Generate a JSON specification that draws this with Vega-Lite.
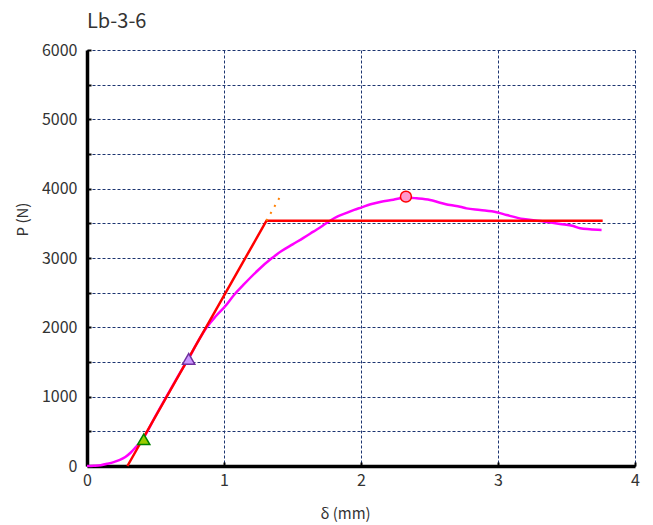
{
  "$schema": "https://vega.github.io/schema/vega-lite/v6.json",
  "width": 548,
  "height": 416,
  "autosize": {"type": "none"},
  "padding": {"left": 87, "top": 50, "right": 18, "bottom": 59},
  "title": {
    "text": "Lb-3-6",
    "anchor": "start",
    "frame": "group",
    "font": "Noto Sans CJK JP",
    "fontSize": 20,
    "fontWeight": "normal",
    "color": "#333333",
    "offset": 10
  },
  "config": {
    "view": {"stroke": null},
    "font": "Noto Sans CJK JP"
  },
  "datasets": {
    "curve": [
      {"x": 0, "y": 0}, {"x": 0.05, "y": 4}, {"x": 0.1, "y": 12}, {"x": 0.15, "y": 33},
      {"x": 0.2, "y": 60}, {"x": 0.24, "y": 88}, {"x": 0.28, "y": 130}, {"x": 0.32, "y": 195},
      {"x": 0.36, "y": 280}, {"x": 0.39, "y": 340}, {"x": 0.414, "y": 410}, {"x": 0.5, "y": 720}, {"x": 0.6, "y": 1070},
      {"x": 0.7, "y": 1415}, {"x": 0.742, "y": 1550}, {"x": 0.8, "y": 1760}, {"x": 0.874, "y": 2000},
      {"x": 0.94, "y": 2160}, {"x": 1.007, "y": 2300}, {"x": 1.07, "y": 2460}, {"x": 1.141, "y": 2611},
      {"x": 1.25, "y": 2827}, {"x": 1.348, "y": 2995}, {"x": 1.42, "y": 3100}, {"x": 1.501, "y": 3197},
      {"x": 1.58, "y": 3290}, {"x": 1.652, "y": 3380}, {"x": 1.72, "y": 3465}, {"x": 1.774, "y": 3538},
      {"x": 1.83, "y": 3600}, {"x": 1.895, "y": 3650}, {"x": 1.95, "y": 3695}, {"x": 2.005, "y": 3731},
      {"x": 2.07, "y": 3775}, {"x": 2.139, "y": 3808}, {"x": 2.236, "y": 3840}, {"x": 2.328, "y": 3872},
      {"x": 2.406, "y": 3861}, {"x": 2.504, "y": 3837}, {"x": 2.577, "y": 3798}, {"x": 2.65, "y": 3764},
      {"x": 2.723, "y": 3740}, {"x": 2.77, "y": 3716}, {"x": 2.869, "y": 3692}, {"x": 2.99, "y": 3659},
      {"x": 3.063, "y": 3620}, {"x": 3.185, "y": 3562}, {"x": 3.307, "y": 3534}, {"x": 3.453, "y": 3490},
      {"x": 3.55, "y": 3462}, {"x": 3.6, "y": 3428}, {"x": 3.67, "y": 3414}, {"x": 3.756, "y": 3404}
    ],
    "bilinear": [
      {"x": 0.295, "y": 0}, {"x": 1.31, "y": 3538}, {"x": 3.764, "y": 3538}
    ],
    "extension": [
      {"x": 1.31, "y": 3538}, {"x": 1.42, "y": 3920}
    ],
    "markers": [
      {"x": 0.414, "y": 385, "kind": "A"},
      {"x": 0.742, "y": 1545, "kind": "B"},
      {"x": 2.328, "y": 3885, "kind": "C"}
    ]
  },
  "encoding": {
    "x": {
      "field": "x", "type": "quantitative",
      "scale": {"domain": [0, 4], "nice": false},
      "axis": {
        "values": [0, 0.5, 1, 1.5, 2, 2.5, 3, 3.5, 4],
        "format": "d",
        "labelExpr": "datum.value % 1 === 0 ? datum.label : ''",
        "title": "δ (mm)",
        "titleFont": "Noto Sans CJK JP",
        "titleFontSize": 15,
        "titleFontWeight": "normal",
        "titleColor": "#333333",
        "titleX": 258,
        "titleY": 47,
        "titleBaseline": "middle",
        "titleAlign": "center",
        "labelFont": "Noto Sans CJK JP",
        "labelFontSize": 16,
        "labelColor": "#333333",
        "labelPadding": 10,
        "labelFlush": false,
        "domainColor": "#000000",
        "domainWidth": 3.5,
        "tickColor": "#000000",
        "tickWidth": 2,
        "tickSize": -4,
        "grid": true,
        "gridColor": "#1c3470",
        "gridDash": [3, 2],
        "gridWidth": 1
      }
    },
    "y": {
      "field": "y", "type": "quantitative",
      "scale": {"domain": [0, 6000], "nice": false},
      "axis": {
        "values": [0, 500, 1000, 1500, 2000, 2500, 3000, 3500, 4000, 4500, 5000, 5500, 6000],
        "format": "d",
        "labelExpr": "datum.value % 1000 === 0 ? datum.label : ''",
        "title": "P (N)",
        "titleFont": "Noto Sans CJK JP",
        "titleFontSize": 15,
        "titleFontWeight": "normal",
        "titleColor": "#333333",
        "titleX": -65,
        "titleY": 169,
        "titleBaseline": "middle",
        "titleAlign": "center",
        "labelFont": "Noto Sans CJK JP",
        "labelFontSize": 16,
        "labelColor": "#333333",
        "labelPadding": 14,
        "labelFlush": false,
        "domainColor": "#000000",
        "domainWidth": 3.5,
        "tickColor": "#000000",
        "tickWidth": 2,
        "tickSize": -4,
        "grid": true,
        "gridColor": "#1c3470",
        "gridDash": [3, 2],
        "gridWidth": 1
      }
    }
  },
  "layer": [
    {
      "data": {"name": "curve"},
      "mark": {"type": "line", "color": "#ff00ff", "strokeWidth": 2.5, "interpolate": "monotone"}
    },
    {
      "data": {"name": "bilinear"},
      "mark": {"type": "line", "color": "#ff0000", "strokeWidth": 2.5}
    },
    {
      "data": {"name": "extension"},
      "mark": {"type": "line", "color": "#ff7f00", "strokeWidth": 2, "strokeDash": [2, 6]}
    },
    {
      "data": {"name": "markers"},
      "transform": [{"filter": "datum.kind === 'A'"}],
      "mark": {"type": "point", "shape": "triangle-up", "size": 150, "filled": true, "fill": "#99cc00", "stroke": "#008000", "strokeWidth": 1.5, "opacity": 1}
    },
    {
      "data": {"name": "markers"},
      "transform": [{"filter": "datum.kind === 'B'"}],
      "mark": {"type": "point", "shape": "triangle-up", "size": 150, "filled": true, "fill": "#cc99ff", "stroke": "#7030a0", "strokeWidth": 1.5, "opacity": 1}
    },
    {
      "data": {"name": "markers"},
      "transform": [{"filter": "datum.kind === 'C'"}],
      "mark": {"type": "point", "shape": "circle", "size": 120, "filled": true, "fill": "#ff99cc", "stroke": "#ff0000", "strokeWidth": 1.5, "opacity": 1}
    }
  ]
}
